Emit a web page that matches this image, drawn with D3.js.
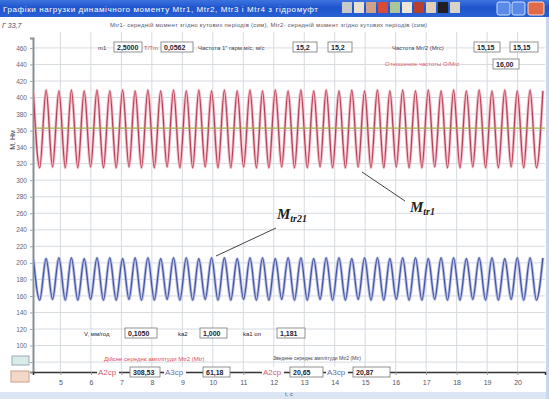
<!DOCTYPE html>
<html>
<head>
<meta charset="utf-8">
<script src="https://cdnjs.cloudflare.com/ajax/libs/d3/7.8.5/d3.min.js"></script>
<style>
  body { margin: 0; background: #fff; }
  svg { display: block; font-family: "Liberation Sans", Arial, sans-serif; }
</style>
</head>
<body>
<svg id="chart" width="549" height="399"></svg>
<script>
// time of each extreme (peak / trough), seconds
var tExt = [4.11, 4.32, 4.53, 4.74, 4.95, 5.16, 5.36, 5.57, 5.78, 5.99,
  6.20, 6.41, 6.62, 6.83, 7.04, 7.25, 7.45, 7.66, 7.87, 8.08,
  8.29, 8.50, 8.71, 8.92, 9.13, 9.34, 9.54, 9.75, 9.96, 10.17,
  10.38, 10.59, 10.80, 11.01, 11.22, 11.43, 11.63, 11.84, 12.05, 12.26,
  12.47, 12.68, 12.89, 13.10, 13.31, 13.52, 13.72, 13.93, 14.14, 14.35,
  14.56, 14.77, 14.98, 15.19, 15.40, 15.61, 15.81, 16.02, 16.23, 16.44,
  16.65, 16.86, 17.07, 17.28, 17.49, 17.70, 17.90, 18.11, 18.32, 18.53,
  18.74, 18.95, 19.16, 19.37, 19.58, 19.79, 19.99, 20.20, 20.41, 20.62,
  20.83];

// Mtr1 (red) extremes
var mtr1 = [408, 315, 409, 316, 408, 315, 409, 315, 408, 316,
  409, 315, 408, 315, 409, 316, 408, 315, 409, 315,
  408, 316, 409, 315, 408, 315, 409, 316, 408, 315,
  409, 315, 408, 316, 409, 315, 408, 315, 409, 316,
  408, 315, 409, 315, 408, 316, 409, 315, 408, 315,
  409, 316, 408, 315, 409, 315, 408, 316, 409, 315,
  408, 315, 409, 316, 408, 315, 409, 315, 408, 316,
  409, 315, 408, 315, 409, 316, 408, 315, 409, 315,
  408];

// Mtr21 (blue) extremes
var mtr21 = [206, 155, 205, 156, 206, 155, 206, 155, 205, 156,
  206, 155, 206, 155, 205, 156, 206, 155, 206, 155,
  205, 156, 206, 155, 206, 155, 205, 156, 206, 155,
  206, 155, 205, 156, 206, 155, 206, 155, 205, 156,
  206, 155, 206, 155, 205, 156, 206, 155, 206, 155,
  205, 156, 206, 155, 206, 155, 205, 156, 206, 155,
  206, 155, 205, 156, 206, 155, 206, 155, 205, 156,
  206, 155, 206, 155, 205, 156, 206, 155, 206, 155,
  206];

var meanLevel = 363;
var xTicks = [5, 6, 7, 8, 9, 10, 11, 12, 13, 14, 15, 16, 17, 18, 19, 20];
var yTicks = [460, 440, 420, 400, 380, 360, 340, 320, 300, 280, 260, 240, 220, 200, 180, 160, 140, 120, 100, 80];

var svg = d3.select('#chart');
var pL = 33, pR = 545, pT = 38, pB = 372;

var x = d3.scaleLinear().domain([4.1, 20.9]).range([pL, pR]);
var y = d3.scaleLinear().domain([68, 472]).range([pB, pT]);

// window frame
svg.append('rect').attr('x', 0).attr('y', 392).attr('width', 549).attr('height', 7).attr('fill', '#dce5f4');
svg.append('rect').attr('x', 546).attr('y', 17).attr('width', 3).attr('height', 382).attr('fill', '#c9d6ee');

// title bar
var grad = svg.append('defs').append('linearGradient').attr('id', 'tb').attr('x1', 0).attr('x2', 0).attr('y1', 0).attr('y2', 1);
grad.append('stop').attr('offset', '0%').attr('stop-color', '#3d74e0');
grad.append('stop').attr('offset', '45%').attr('stop-color', '#1f55cc');
grad.append('stop').attr('offset', '100%').attr('stop-color', '#2a60d4');
svg.append('rect').attr('width', 549).attr('height', 17).attr('fill', 'url(#tb)');
svg.append('text').attr('x', 3).attr('y', 12).attr('fill', '#fff').attr('font-size', 8)
  .attr('letter-spacing', 0.6)
  .text('Графіки нагрузки динамічного моменту Mtr1, Mtr2, Mtr3 і Mtr4  з гідромуфт');

var icons = ['#c9c9c9', '#e8e0d0', '#cfa08a', '#d84a3a', '#a9c79a', '#efe6d6', '#b84030', '#e0d0b8', '#202020', '#d8d2c8'];
svg.selectAll('.icon').data(icons).enter().append('rect')
  .attr('x', function (d, i) { return 342 + i * 12; }).attr('y', 2).attr('width', 10).attr('height', 11)
  .attr('fill', function (d) { return d; });
svg.append('rect').attr('x', 497).attr('y', 2).attr('width', 13).attr('height', 13).attr('rx', 2).attr('fill', '#5a8ae8').attr('stroke', '#cfe0ff');
svg.append('rect').attr('x', 512).attr('y', 2).attr('width', 13).attr('height', 13).attr('rx', 2).attr('fill', '#5a8ae8').attr('stroke', '#cfe0ff');
svg.append('rect').attr('x', 528).attr('y', 2).attr('width', 16).attr('height', 13).attr('rx', 2).attr('fill', '#e06a4a').attr('stroke', '#ffd8c8');

svg.append('text').attr('x', 2).attr('y', 28).attr('font-size', 7).attr('font-style', 'italic').attr('fill', '#445')
  .text('Г 33,7');

// grid
svg.append('g').selectAll('line').data(xTicks).enter().append('line')
  .attr('x1', function (d) { return x(d); }).attr('x2', function (d) { return x(d); })
  .attr('y1', pT - 6).attr('y2', pB).attr('stroke', '#d6dbe0').attr('stroke-width', 1);
svg.append('g').selectAll('line').data(yTicks).enter().append('line')
  .attr('x1', pL).attr('x2', pR)
  .attr('y1', function (d) { return y(d); }).attr('y2', function (d) { return y(d); })
  .attr('stroke', '#d6dbe0').attr('stroke-width', 1);

// axes
var yAxis = d3.axisLeft(y).tickValues(yTicks).tickSize(3).tickFormat(d3.format('d'));
var gy = svg.append('g').attr('transform', 'translate(' + pL + ',0)').call(yAxis);
gy.select('.domain').attr('stroke', '#8a8f96').attr('stroke-width', 2);
gy.selectAll('.tick line').attr('stroke', '#9aa');
gy.selectAll('.tick text').attr('font-size', 6.5).attr('fill', '#667');

var xAxis = d3.axisBottom(x).tickValues(xTicks).tickSize(3).tickFormat(d3.format('d'));
var gx = svg.append('g').attr('transform', 'translate(0,' + pB + ')').call(xAxis);
gx.select('.domain').attr('stroke', '#333').attr('stroke-width', 1.5);
gx.selectAll('.tick line').attr('stroke', '#999');
gx.selectAll('.tick text').attr('font-size', 7).attr('fill', '#556').attr('dy', 7);

svg.append('text').attr('x', 285).attr('y', 396).attr('font-size', 6).attr('fill', '#556').text('t, c');
svg.append('text').attr('transform', 'translate(15,140) rotate(-90)').attr('font-size', 7)
  .attr('fill', '#334').attr('text-anchor', 'middle').text('M, Нм');

// small boxes left of the axis bottom
svg.append('rect').attr('x', 12).attr('y', 356).attr('width', 17).attr('height', 9).attr('fill', '#d8ece8').attr('stroke', '#9ab');
svg.append('rect').attr('x', 11).attr('y', 371).attr('width', 18).attr('height', 11).attr('fill', '#f3d8c8').attr('stroke', '#c9a08a');

// series
var line = d3.line().curve(d3.curveMonotoneX)
  .x(function (d) { return x(d[0]); }).y(function (d) { return y(d[1]); });
var redPts = d3.zip(tExt, mtr1);
var bluePts = d3.zip(tExt, mtr21);

svg.append('clipPath').attr('id', 'plot').append('rect')
  .attr('x', pL + 1).attr('y', pT).attr('width', pR - pL).attr('height', pB - pT);
var plot = svg.append('g').attr('clip-path', 'url(#plot)');

plot.append('path').datum(redPts).attr('d', line).attr('fill', 'none').attr('stroke', '#f4c0cb').attr('stroke-width', 3);
plot.append('path').datum(redPts).attr('d', line).attr('fill', 'none').attr('stroke', '#b84058').attr('stroke-width', 1.3);
plot.append('path').datum(bluePts).attr('d', line).attr('fill', 'none').attr('stroke', '#bcc2e8').attr('stroke-width', 3);
plot.append('path').datum(bluePts).attr('d', line).attr('fill', 'none').attr('stroke', '#4656a0').attr('stroke-width', 1.3);

plot.append('line').attr('x1', pL).attr('x2', pR).attr('y1', y(meanLevel)).attr('y2', y(meanLevel))
  .attr('stroke', '#9fae4a').attr('stroke-width', 1.4);

// header texts and fields
svg.append('text').attr('x', 110).attr('y', 27).attr('font-size', 6).attr('fill', '#556')
  .attr('letter-spacing', 0.25)
  .text('Mtr1- середній момент згідно кутових періодів (сим), Mtr2- середній момент згідно кутових періодів (сим)');

function field(x0, y0, w, txt) {
  svg.append('rect').attr('x', x0).attr('y', y0).attr('width', w).attr('height', 10)
    .attr('fill', '#fff').attr('stroke', '#777').attr('stroke-width', 0.8);
  svg.append('text').attr('x', x0 + 3).attr('y', y0 + 8).attr('font-size', 7).attr('font-weight', 'bold')
    .attr('fill', '#223').text(txt);
}
function label(x0, y0, txt, col) {
  svg.append('text').attr('x', x0).attr('y', y0).attr('font-size', 6).attr('fill', col || '#445').text(txt);
}

label(98, 50, 'm1');
field(114, 42, 28, '2,5000');
label(144, 50, 'T/Tm', '#d05060');
field(161, 42, 32, '0,0562');
label(198, 50, 'Частота 1" гарм.м/с, м/с');
field(293, 42, 24, '15,2');
field(328, 42, 24, '15,2');
label(392, 50, 'Частота Мг/2 (Мгс)');
field(474, 42, 26, '15,15');
field(510, 42, 28, '15,15');
label(385, 66, 'Отношение частоты О/Мгс', '#e06070');
field(493, 59, 26, '16,00');

label(84, 336, 'V, мм/год', '#223');
field(125, 328, 32, '0,1050');
label(178, 336, 'ka2', '#223');
field(200, 328, 27, '1,000');
label(243, 336, 'ka1 оп', '#223');
field(277, 328, 28, '1,181');

svg.append('text').attr('x', 104).attr('y', 361).attr('font-size', 6).attr('fill', '#e04a5a')
  .text('Дійсне середнє амплітуди Mtr2 (Mtr)');
svg.append('text').attr('x', 273).attr('y', 360).attr('font-size', 5).attr('fill', '#445')
  .text('Зведене середнє амплітуди Mtr2 (Mtr)');

function onAxis(x0, txt, col) {
  svg.append('rect').attr('x', x0 - 1).attr('y', pB - 5).attr('width', txt.length * 5 + 2).attr('height', 9).attr('fill', '#fff');
  svg.append('text').attr('x', x0).attr('y', pB + 3).attr('font-size', 8).attr('fill', col).text(txt);
}
onAxis(98, 'A2cp', '#d06070');
field(130, pB - 5, 30, '308,53');
onAxis(165, 'A3cp', '#6070b0');
field(203, pB - 5, 27, '61,18');
onAxis(263, 'A2cp', '#d06070');
field(290, pB - 5, 33, '20,65');
onAxis(327, 'A3cp', '#6070b0');
field(353, pB - 5, 37, '20,87');

// annotations
svg.append('line').attr('x1', 362).attr('y1', 172).attr('x2', 405).attr('y2', 201).attr('stroke', '#444').attr('stroke-width', 1);
svg.append('line').attr('x1', 216).attr('y1', 256).attr('x2', 276).attr('y2', 228).attr('stroke', '#444').attr('stroke-width', 1);

function mLabel(x0, y0, sub) {
  var t = svg.append('text').attr('x', x0).attr('y', y0).attr('font-family', '"Liberation Serif", serif')
    .attr('font-style', 'italic').attr('font-weight', 'bold').attr('fill', '#222');
  t.append('tspan').attr('font-size', 15).text('M');
  t.append('tspan').attr('font-size', 10).attr('dy', 3).text(sub);
}
mLabel(410, 212, 'tr1');
mLabel(277, 219, 'tr21');
</script>
</body>
</html>
